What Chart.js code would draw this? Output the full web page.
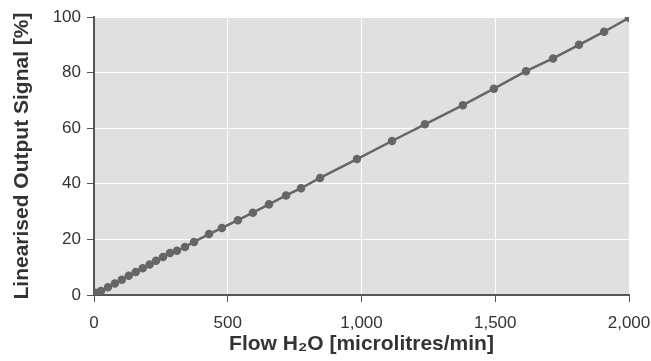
<!DOCTYPE html>
<html>
<head>
<meta charset="utf-8">
<script src="https://cdn.jsdelivr.net/npm/chart.js@4"></script>
<style>
  body { margin: 0; background: #fff; }
  #wrap { width: 651px; height: 361px; }
</style>
</head>
<body>
<div id="wrap"><canvas id="flowChart" width="651" height="361"></canvas></div>
<script>
// flow readings (microlitres/min) and the linearised output (%)
const flow = [5, 26, 52, 78, 104, 130, 156, 182, 208, 232, 258, 284, 310, 340, 374,
  430, 478, 538, 594, 654, 718, 774, 845, 983, 1114, 1237, 1379, 1495, 1615, 1716, 1813, 1907, 2000];
const output = [0.8, 1.4, 2.8, 4.1, 5.5, 6.9, 8.3, 9.6, 11.0, 12.3, 13.7, 15.1, 15.9, 17.3, 19.1,
  21.9, 24.1, 26.9, 29.6, 32.6, 35.8, 38.4, 42.1, 48.9, 55.4, 61.4, 68.3, 74.2, 80.5, 85.1, 90.0, 94.7, 99.7];
const xTicks = [0, 500, 1000, 1500, 2000];
const yTicks = [0, 20, 40, 60, 80, 100];

const textColor = "#333";
const axisColor = "#555";

// grey plot background
const plotBg = {
  id: "plotBg",
  beforeDraw(chart) {
    const { ctx, chartArea: a } = chart;
    ctx.save();
    ctx.fillStyle = "#e0e0e0";
    ctx.fillRect(a.left, a.top, a.right - a.left, a.bottom - a.top);
    ctx.restore();
  },
};

const canvas = document.getElementById("flowChart");
new Chart(canvas, {
  type: "scatter",
  data: {
    datasets: [
      {
        data: flow.map((f, i) => ({ x: f, y: output[i] })),
        showLine: true,
        borderColor: "#666",
        backgroundColor: "#666",
        borderWidth: 2.5,
        pointRadius: 3,
        pointHoverRadius: 3,
      },
    ],
  },
  options: {
    responsive: false,
    animation: false,
    layout: { padding: { top: 17, right: 22, left: 6, bottom: 0 } },
    plugins: { legend: { display: false }, tooltip: { enabled: false } },
    scales: {
      x: {
        type: "linear",
        min: xTicks[0],
        max: xTicks[xTicks.length - 1],
        afterBuildTicks: (s) => { s.ticks = xTicks.map((v) => ({ value: v })); },
        afterFit: (s) => {
          s.height = 66;
          s.paddingLeft = 0;
          s.paddingRight = 0;
        },
        grid: { color: "#fff", lineWidth: 1, tickColor: axisColor, tickLength: 7 },
        border: { color: axisColor, width: 2 },
        ticks: { color: textColor, font: { family: "Liberation Sans", size: 17 }, padding: 11 },
        title: {
          display: true,
          text: "Flow H\u2082O [microlitres/min]",
          color: textColor,
          font: { family: "Liberation Sans", size: 21, weight: "bold" },
          padding: { top: 5 },
        },
      },
      y: {
        min: yTicks[0],
        max: yTicks[yTicks.length - 1],
        afterBuildTicks: (s) => { s.ticks = yTicks.map((v) => ({ value: v })); },
        afterFit: (s) => { s.width = 88; },
        grid: { color: "#fff", lineWidth: 1, tickColor: axisColor, tickLength: 7 },
        border: { color: axisColor, width: 2 },
        ticks: { color: textColor, font: { family: "Liberation Sans", size: 17 }, padding: 6 },
        title: {
          display: true,
          text: "Linearised Output Signal [%]",
          color: textColor,
          font: { family: "Liberation Sans", size: 21, weight: "bold" },
          padding: { bottom: 4 },
        },
      },
    },
  },
  plugins: [plotBg],
});
</script>
</body>
</html>
